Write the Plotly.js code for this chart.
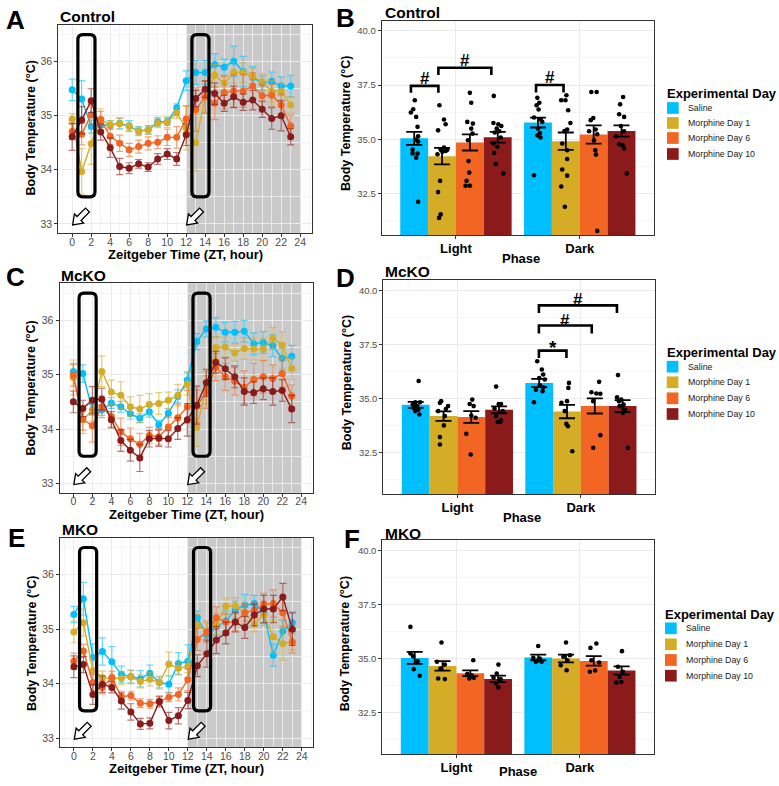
<!DOCTYPE html>
<html><head><meta charset="utf-8">
<script src="https://cdn.plot.ly/plotly-3.0.1.min.js"></script>
<style>html,body{margin:0;padding:0;background:#fff}#chart{width:779px;height:786px}</style>
</head><body><div id="chart"></div>
<script>
// ---------------- DATA ----------------
const ZT = [0,1,2,3,4,5,6,7,8,9,10,11,12,13,14,15,16,17,18,19,20,21,22,23];
const GROUPS = ['Saline','Morphine Day 1','Morphine Day 6','Morphine Day 10'];
const PHASES = ['Light','Dark'];
const COLORS = ['#00BFFF','#D4AC26','#F26522','#8B1A1A'];

// Control (A)
const ctrlSaline = [35.48,35.31,34.80,34.83,34.83,34.86,34.81,34.72,34.74,34.89,34.89,35.15,35.65,35.80,35.80,35.95,35.90,36.01,35.82,35.71,35.60,35.64,35.55,35.55];
const ctrlMD1    = [34.94,33.97,34.48,34.93,34.83,34.85,34.80,34.71,34.74,34.86,34.88,35.05,34.77,34.50,35.35,35.75,35.60,35.80,35.80,35.73,35.63,35.45,35.45,35.20];
const ctrlMD6    = [34.71,34.66,35.02,34.93,34.62,34.49,34.37,34.43,34.49,34.51,34.60,34.60,34.94,35.11,35.35,35.23,35.43,35.46,35.46,35.55,35.37,35.38,35.20,34.81];
const ctrlMD10   = [34.61,34.92,35.28,34.70,34.41,34.06,34.03,34.11,34.05,34.20,34.29,34.20,34.65,35.32,35.49,35.41,35.23,35.35,35.25,35.29,35.12,34.95,35.00,34.61];
const ctrlSalineSE = [0.20,0.34,0.12,0.10,0.08,0.10,0.10,0.08,0.08,0.08,0.07,0.07,0.18,0.22,0.22,0.20,0.15,0.28,0.28,0.20,0.14,0.17,0.17,0.20];
const ctrlMD1SE    = [0.10,0.42,0.38,0.20,0.08,0.10,0.08,0.08,0.08,0.08,0.10,0.10,0.40,0.52,0.30,0.20,0.15,0.20,0.18,0.15,0.15,0.20,0.15,0.15];
const ctrlMD6SE    = [0.15,0.20,0.20,0.15,0.15,0.15,0.12,0.12,0.12,0.12,0.15,0.20,0.25,0.40,0.30,0.30,0.30,0.30,0.30,0.25,0.22,0.20,0.20,0.20];
const ctrlMD10SE   = [0.25,0.25,0.22,0.15,0.18,0.15,0.10,0.08,0.08,0.10,0.10,0.12,0.20,0.15,0.15,0.20,0.15,0.20,0.15,0.18,0.15,0.20,0.28,0.15];

// McKO (C)
const mckoSaline = [35.06,35.02,34.35,34.35,34.48,34.41,34.28,34.20,34.32,34.08,34.29,34.60,34.90,35.61,35.84,35.87,35.78,35.78,35.80,35.57,35.59,35.53,35.30,35.34];
const mckoMD1    = [34.95,34.17,34.34,35.06,34.68,34.62,34.41,34.37,34.45,34.47,34.53,34.62,34.83,34.03,34.76,35.50,35.51,35.40,35.48,35.47,35.47,35.67,35.54,35.11];
const mckoMD6    = [34.99,34.18,34.06,34.41,34.23,33.95,33.82,33.72,33.88,33.86,34.04,34.21,34.41,34.42,34.68,35.14,34.96,34.88,34.77,34.91,34.96,34.93,35.02,34.61];
const mckoMD10   = [34.50,34.38,34.53,34.55,34.17,33.79,33.61,33.47,33.82,33.83,33.82,34.01,34.17,34.44,34.85,35.23,35.11,34.96,34.69,34.67,34.74,34.69,34.71,34.37];
const mckoSalineSE = [0.15,0.16,0.10,0.10,0.10,0.10,0.10,0.08,0.10,0.08,0.08,0.12,0.15,0.15,0.15,0.18,0.18,0.20,0.20,0.20,0.20,0.20,0.20,0.20];
const mckoMD1SE    = [0.32,0.25,0.20,0.28,0.22,0.25,0.18,0.25,0.20,0.20,0.15,0.20,0.20,0.35,0.30,0.20,0.18,0.15,0.20,0.20,0.20,0.20,0.25,0.20];
const mckoMD6SE    = [0.20,0.20,0.30,0.20,0.20,0.25,0.20,0.20,0.15,0.15,0.20,0.25,0.30,0.30,0.30,0.25,0.25,0.25,0.30,0.30,0.30,0.25,0.25,0.20];
const mckoMD10SE   = [0.20,0.15,0.25,0.20,0.15,0.20,0.20,0.25,0.15,0.15,0.15,0.20,0.30,0.35,0.25,0.20,0.20,0.20,0.25,0.20,0.20,0.25,0.20,0.25];

// MKO (E)
const mkoSaline = [35.27,35.56,34.48,34.59,34.40,34.17,34.13,34.09,34.19,34.02,33.99,34.37,34.41,35.21,34.89,35.04,35.15,35.36,35.44,35.47,35.30,34.52,34.96,35.12];
const mkoMD1    = [34.95,35.12,34.24,34.11,34.09,34.10,34.12,34.04,34.08,34.02,34.36,34.28,34.32,35.07,34.96,35.09,35.42,35.43,35.30,35.10,35.26,34.86,34.73,34.77];
const mkoMD6    = [34.41,34.60,34.02,33.93,34.11,33.76,33.78,33.64,33.63,33.67,33.75,33.80,34.07,34.81,34.95,35.21,35.13,35.13,35.30,35.35,35.46,35.47,35.30,34.76];
const mkoMD10   = [34.31,34.35,33.80,33.99,33.93,33.68,33.48,33.26,33.27,33.67,33.32,33.41,33.69,34.33,34.55,34.80,34.93,35.13,35.03,35.26,35.37,35.37,35.59,35.00];
const mkoSalineSE = [0.15,0.30,0.25,0.25,0.28,0.15,0.12,0.15,0.15,0.10,0.15,0.20,0.30,0.12,0.12,0.15,0.18,0.15,0.20,0.15,0.20,0.20,0.20,0.20];
const mkoMD1SE    = [0.20,0.25,0.20,0.12,0.10,0.12,0.12,0.12,0.12,0.12,0.22,0.12,0.12,0.20,0.15,0.20,0.15,0.15,0.20,0.15,0.20,0.30,0.30,0.15];
const mkoMD6SE    = [0.15,0.12,0.15,0.12,0.12,0.10,0.08,0.08,0.08,0.08,0.08,0.12,0.20,0.20,0.20,0.20,0.15,0.15,0.15,0.15,0.20,0.25,0.25,0.20];
const mkoMD10SE   = [0.20,0.15,0.18,0.15,0.10,0.15,0.15,0.10,0.10,0.10,0.15,0.15,0.15,0.20,0.25,0.25,0.20,0.18,0.20,0.20,0.25,0.25,0.25,0.30];

// Phase means (B, D, F), per group in GROUPS order
const ctrlLightMean = [35.04,34.22,34.85,35.09], ctrlLightSE = [0.30,0.38,0.37,0.25];
const ctrlDarkMean  = [35.77,34.91,35.22,35.38], ctrlDarkSE  = [0.23,0.40,0.42,0.26];
const mckoLightMean = [34.71,34.19,34.15,34.48], mckoLightSE = [0.14,0.22,0.27,0.16];
const mckoDarkMean  = [35.72,34.40,34.66,34.65], mckoDarkSE  = [0.19,0.31,0.35,0.28];
const mkoLightMean  = [35.03,34.66,34.32,34.06], mkoLightSE  = [0.28,0.22,0.13,0.15];
const mkoDarkMean   = [35.05,35.00,34.89,34.45], mkoDarkSE   = [0.13,0.18,0.22,0.19];

// Individual animals: [jitter (category units), temperature]
const ctrlLightPts = [
 [[0.005,36.80],[-0.027,36.23],[-0.008,36.38],[0.016,36.03],[0.027,35.57],[0.032,35.14],[0.016,34.98],[0.032,34.89],[-0.013,34.52],[-0.013,34.34],[0.027,34.34],[0.016,34.15],[0.032,32.11]],
 [[-0.021,36.57],[0.016,35.91],[0.029,35.69],[-0.032,35.41],[0.016,34.62],[-0.011,34.52],[0.029,34.46],[0.043,34.52],[0.003,34.42],[-0.037,34.31],[-0.016,33.08],[-0.032,32.56],[-0.011,31.53],[-0.024,31.37]],
 [[0,37.14],[0.011,36.68],[-0.021,35.80],[0.024,35.72],[0.011,35.49],[0.021,35.26],[-0.016,34.95],[-0.011,33.99],[-0.005,33.46],[-0.027,33.08],[-0.035,32.85],[0,32.85]],
 [[-0.032,37.00],[-0.035,35.75],[0.005,35.69],[0.029,35.61],[-0.008,35.49],[-0.024,35.31],[0.013,35.37],[0.024,35.08],[-0.035,34.80],[-0.003,34.65],[-0.029,34.37],[-0.016,33.85],[0.045,33.42]]];
const ctrlDarkPts = [
 [[-0.005,36.91],[0.011,36.68],[-0.011,36.57],[0.005,36.37],[-0.032,36.00],[0.021,35.91],[0.035,35.80],[0,35.49],[0.016,35.29],[-0.005,35.18],[0.021,35.08],[-0.032,33.34]],
 [[-0.037,36.80],[-0.003,36.80],[0.005,37.03],[0.019,36.34],[0.037,35.75],[-0.011,35.38],[0.011,35.45],[-0.029,34.80],[0.011,34.49],[0.011,34.09],[-0.029,33.60],[0.011,33.32],[-0.037,32.82],[-0.008,31.88]],
 [[-0.019,37.18],[0.024,37.18],[-0.003,35.98],[-0.024,35.88],[-0.037,35.37],[0.016,35.45],[0.029,35.23],[0.003,34.95],[0.013,34.49],[0.019,34.29],[0.029,30.77]],
 [[0.013,36.95],[-0.011,36.61],[-0.019,36.15],[0.021,36.03],[-0.005,35.61],[0.021,35.37],[-0.045,35.14],[-0.019,34.77],[0.008,34.72],[0.021,34.57],[0.043,33.42]]];
const mckoLightPts = [
 [[0.024,35.81],[0.035,34.83],[-0.003,34.83],[-0.024,34.72],[0.013,34.65],[-0.019,34.57],[0.021,34.49],[-0.005,34.42],[0.029,34.26]],
 [[-0.019,34.88],[-0.029,34.80],[0.037,34.65],[0.019,34.52],[-0.043,34.42],[0.011,34.19],[0.003,33.76],[-0.029,33.22],[-0.029,32.88]],
 [[0.008,34.95],[-0.013,34.75],[0.019,34.65],[0,34.22],[0.035,34.11],[-0.040,33.37],[-0.005,32.42]],
 [[-0.024,35.55],[-0.003,34.75],[0.016,34.75],[-0.037,34.54],[0.029,34.42],[-0.024,34.19],[0.008,33.92],[-0.011,33.92],[0.016,33.99]]];
const mckoDarkPts = [
 [[-0.016,36.72],[0.021,36.34],[0.032,36.11],[0,35.95],[0.045,35.88],[0.005,35.61],[0.032,35.52],[-0.027,35.41],[0.027,35.34],[-0.043,34.83]],
 [[0.016,35.72],[0.011,35.49],[0,34.88],[-0.045,34.80],[-0.019,34.42],[-0.005,33.83],[0.008,33.72],[0.043,32.57]],
 [[0.035,35.77],[-0.027,35.29],[0.013,35.23],[0.045,35.22],[-0.013,34.88],[0.045,33.31],[-0.013,32.73]],
 [[-0.037,36.08],[-0.045,35.06],[-0.011,34.95],[-0.029,34.88],[0.008,34.72],[-0.024,34.65],[0.019,34.48],[0.003,34.34],[0.043,32.73]]];
const mkoLightPts = [
 [[-0.035,36.46],[-0.035,35.23],[-0.013,35.11],[0.024,34.88],[-0.008,34.51],[0.040,34.20]],
 [[-0.008,35.74],[-0.045,34.85],[0.019,34.72],[-0.016,34.54],[-0.035,34.08],[0.019,34.05]],
 [[0.024,34.92],[-0.024,34.28],[0.011,34.23],[-0.008,34.08],[0.029,34.11],[-0.003,34.15]],
 [[0.003,34.72],[-0.011,34.31],[-0.037,34.11],[0.021,34.05],[-0.016,33.85],[0.003,33.66]]];
const mkoDarkPts = [
 [[0,35.58],[-0.040,35.03],[0.013,35.00],[-0.019,34.85],[0.027,34.85],[0,34.92]],
 [[0,35.74],[0.032,35.15],[-0.021,35.08],[0.011,34.92],[-0.043,34.69],[0.005,34.46]],
 [[0.021,35.69],[-0.027,35.49],[-0.019,34.92],[0.043,34.82],[-0.032,34.39],[0.011,34.45]],
 [[0.003,35.34],[-0.029,34.62],[0.011,34.39],[-0.016,34.15],[-0.043,33.89],[-0.003,33.92]]];

// Significance brackets: [x start, x end, bracket y, leg end y, label, label centre y]
const ctrlSig = [[-0.364,-0.142,37.46,37.14,'#',37.80],[-0.142,0.286,38.30,37.96,'#',38.65],[0.647,0.869,37.50,37.16,'#',37.85]];
const mckoSig = [[0.660,0.883,37.21,36.87,'*',37.35],[0.660,1.088,38.37,38.00,'#',38.62],[0.660,1.292,39.30,38.95,'#',39.56]];

// Highlight windows and injection markers (ZT)
const boxWindows = [[0.6,2.4],[12.6,14.4]];
const boxTemps = [33.5,36.5];
const injectionZT = [0,12];
const darkPhase = [12,24];

// ---------------- LAYOUT ----------------
const W = 779, H = 786;
const FONT = 'Liberation Sans, Arial, Helvetica, sans-serif';
const LINE_XR = [-1.46,25.21], LINE_YR = [32.83,36.68];
const BAR_XR = [-0.6,1.6], BAR_YR = [30.58,40.47];
const linePanels = [
  {id:'',  box:{l:58.3,r:311.7,t:25,b:233},   data:[ctrlSaline,ctrlMD1,ctrlMD6,ctrlMD10], se:[ctrlSalineSE,ctrlMD1SE,ctrlMD6SE,ctrlMD10SE],
   letter:['A',16,19.5], title:['Control',57.5,16.3], ytitle:[30.5,128], xtitle:[185,254.5]},
  {id:'3', box:{l:59.5,r:312.7,t:283.3,b:492.7}, data:[mckoSaline,mckoMD1,mckoMD6,mckoMD10], se:[mckoSalineSE,mckoMD1SE,mckoMD6SE,mckoMD10SE],
   letter:['C',15,277.3], title:['McKO',59,275.5], ytitle:[31.3,388.3], xtitle:[186.3,514]},
  {id:'5', box:{l:60,r:313.3,t:537.7,b:747.3}, data:[mkoSaline,mkoMD1,mkoMD6,mkoMD10], se:[mkoSalineSE,mkoMD1SE,mkoMD6SE,mkoMD10SE],
   letter:['E',16.7,538], title:['MKO',59.5,529.5], ytitle:[32,644], xtitle:[186.7,768.5]}
];
const barPanels = [
  {id:'2', box:{l:381.7,r:654,t:20.7,b:235}, light:[ctrlLightMean,ctrlLightSE,ctrlLightPts], dark:[ctrlDarkMean,ctrlDarkSE,ctrlDarkPts], sig:ctrlSig,
   letter:['B',345,18.3], title:['Control',382.5,12.5], ytitle:[346.7,123.3], xtitle:[521,258],
   legend:{tx:665,ty:93,kx:667,ky:[108,123,138,154],lx:686}},
  {id:'4', box:{l:383.3,r:655,t:280,b:494.3}, light:[mckoLightMean,mckoLightSE,mckoLightPts], dark:[mckoDarkMean,mckoDarkSE,mckoDarkPts], sig:mckoSig,
   letter:['D',345,278], title:['McKO',382.5,271], ytitle:[346.7,382.5], xtitle:[522,517]},
  {id:'6', box:{l:382.3,r:654,t:540,b:754.3}, light:[mkoLightMean,mkoLightSE,mkoLightPts], dark:[mkoDarkMean,mkoDarkSE,mkoDarkPts], sig:[],
   letter:['F',351.5,539], title:['MKO',382.5,533], ytitle:[345.3,644], xtitle:[518.3,771.5]}
];
barPanels[1].legend = {tx:665,ty:352.7,kx:666.7,ky:[366.7,382.3,398.3,414],lx:686};
barPanels[2].legend = {tx:663,ty:614.3,kx:665,ky:[628.3,644.3,660,675.7],lx:684};

const layout = {width:W, height:H, margin:{l:0,r:0,t:0,b:0,pad:0}, paper_bgcolor:'#ffffff', plot_bgcolor:'#ffffff',
  showlegend:false, font:{family:FONT, color:'#000'}, shapes:[], annotations:[]};
const traces = [];

function rgba(hex,a){const n=parseInt(hex.slice(1),16);return `rgba(${n>>16&255},${n>>8&255},${n&255},${a})`;}
const px = x => x/W, py = y => 1 - y/H;
function txt(text,x,y,o){layout.annotations.push(Object.assign({text:text,x:px(x),y:py(y),xref:'paper',yref:'paper',showarrow:false,
  xanchor:'center',yanchor:'middle',font:{family:FONT,size:13,color:'#000',weight:'bold'}},o||{}));}

function axisBase(box,isX){
  return {domain: isX?[px(box.l),px(box.r)]:[py(box.b),py(box.t)], showline:true, mirror:true, linecolor:'#333333', linewidth:1,
    zeroline:false, showgrid:true, gridcolor:'#EBEBEB', gridwidth:1, ticks:'outside', ticklen:3, tickwidth:1, tickcolor:'#333333',
    fixedrange:true, automargin:false};
}

// ---- line panels ----
linePanels.forEach(P=>{
  const xa='x'+P.id, ya='y'+P.id;
  const xk='xaxis'+P.id, yk='yaxis'+P.id;
  layout[xk] = Object.assign(axisBase(P.box,true),{anchor:ya, range:LINE_XR, tickmode:'linear', tick0:0, dtick:2, ticklabelstandoff:-4,
    tickfont:{size:10.5,color:'#4D4D4D',family:FONT}, minor:{dtick:1, showgrid:true, gridcolor:'#F2F2F2', gridwidth:0.8}});
  layout[yk] = Object.assign(axisBase(P.box,false),{anchor:xa, range:LINE_YR, tickmode:'linear', tick0:33, dtick:1,
    tickfont:{size:10.5,color:'#4D4D4D',family:FONT}, minor:{dtick:0.5, showgrid:true, gridcolor:'#F2F2F2', gridwidth:0.8}});
  const pxX = (P.box.r-P.box.l)/(LINE_XR[1]-LINE_XR[0]);
  const pxY = (P.box.b-P.box.t)/(LINE_YR[1]-LINE_YR[0]);
  // dark phase shading
  layout.shapes.push({type:'rect', xref:xa, yref:ya+' domain', x0:darkPhase[0], x1:darkPhase[1], y0:0, y1:1,
    fillcolor:'#C9C9C9', line:{width:0}, layer:'below'});
  // series
  P.data.forEach((m,g)=>{
    traces.push({type:'scatter', mode:'lines+markers', name:GROUPS[g], x:ZT, y:m, xaxis:xa, yaxis:ya,
      line:{color:COLORS[g], width:1.4}, marker:{color:COLORS[g], size:7},
      error_y:{type:'data', array:P.se[g], visible:true, color:rgba(COLORS[g],0.6), thickness:1.2, width:3.5}, hoverinfo:'skip'});
  });
  // rounded highlight boxes
  const r = 5, rx = r/pxX, ry = r/pxY;
  boxWindows.forEach(([x0,x1])=>{
    const y0=boxTemps[0], y1=boxTemps[1];
    const path = `M${x0+rx},${y1} L${x1-rx},${y1} Q${x1},${y1} ${x1},${y1-ry} L${x1},${y0+ry} Q${x1},${y0} ${x1-rx},${y0} `+
                 `L${x0+rx},${y0} Q${x0},${y0} ${x0},${y0+ry} L${x0},${y1-ry} Q${x0},${y1} ${x0+rx},${y1} Z`;
    layout.shapes.push({type:'path', xref:xa, yref:ya, path:path, line:{color:'#000', width:3.2}, fillcolor:'rgba(0,0,0,0)', layer:'above'});
  });
  // hollow arrows pointing down-left to the injection times
  const s = Math.SQRT1_2, a=[s,-s], p=[s,s];
  const local = [[0,0],[9,-6.5],[9,-2.8],[21,-2.8],[21,2.8],[9,2.8],[9,6.5]];
  injectionZT.forEach(z=>{
    const tipX = z + 0.05, tipY = 32.98;
    const pts = local.map(([u,v])=>{const sx=u*a[0]+v*p[0], sy=u*a[1]+v*p[1]; return [tipX+sx/pxX, tipY-sy/pxY];});
    const path = 'M'+pts.map(q=>q[0].toFixed(4)+','+q[1].toFixed(4)).join(' L')+' Z';
    layout.shapes.push({type:'path', xref:xa, yref:ya, path:path, line:{color:'#000', width:1.3}, fillcolor:'#fff', layer:'above'});
  });
  txt(P.letter[0],P.letter[1],P.letter[2],{font:{family:FONT,size:26,weight:'bold',color:'#000'}});
  txt(P.title[0],P.title[1],P.title[2],{xanchor:'left',font:{family:FONT,size:15.5,weight:'bold',color:'#000'}});
  txt('Body Temperature (°C)',P.ytitle[0],P.ytitle[1],{textangle:-90,font:{family:FONT,size:12.5,weight:'bold',color:'#000'}});
  txt('Zeitgeber Time (ZT, hour)',P.xtitle[0],P.xtitle[1],{font:{family:FONT,size:13,weight:'bold',color:'#000'}});
});

// ---- bar panels ----
const DODGE = 0.225;
barPanels.forEach(P=>{
  const xa='x'+P.id, ya='y'+P.id;
  layout['xaxis'+P.id] = Object.assign(axisBase(P.box,true),{anchor:ya, range:BAR_XR, tickmode:'array', tickvals:[0,1], ticktext:PHASES,
    ticklabelstandoff:-2, tickfont:{size:13,color:'#000',family:FONT,weight:'bold'}});
  layout['yaxis'+P.id] = Object.assign(axisBase(P.box,false),{anchor:xa, range:BAR_YR, tickmode:'array', tickvals:[32.5,35,37.5,40],
    ticktext:['32.5','35.0','37.5','40.0'], tickfont:{size:9.5,color:'#4D4D4D',family:FONT},
    minor:{tickmode:'linear', tick0:30, dtick:1.25, showgrid:true, gridcolor:'#F2F2F2', gridwidth:0.8}});
  GROUPS.forEach((g,i)=>{
    const off = (i-1.5)*DODGE;
    traces.push({type:'bar', name:g, x:[0+off,1+off], y:[P.light[0][i],P.dark[0][i]], width:DODGE, xaxis:xa, yaxis:ya,
      marker:{color:COLORS[i], line:{width:0}},
      error_y:{type:'data', array:[P.light[1][i],P.dark[1][i]], visible:true, color:'#000', thickness:1.8, width:8}, hoverinfo:'skip'});
  });
  GROUPS.forEach((g,i)=>{
    const off = (i-1.5)*DODGE;
    const xs=[], ys=[];
    P.light[2][i].forEach(([j,v])=>{xs.push(0+off+j); ys.push(v);});
    P.dark[2][i].forEach(([j,v])=>{xs.push(1+off+j); ys.push(v);});
    traces.push({type:'scatter', mode:'markers', name:g+' animals', x:xs, y:ys, xaxis:xa, yaxis:ya,
      marker:{color:'#000', size:4.6}, hoverinfo:'skip'});
  });
  P.sig.forEach(([x0,x1,y,yl,lab,ly])=>{
    layout.shapes.push({type:'path', xref:xa, yref:ya, path:`M${x0},${yl} L${x0},${y} L${x1},${y} L${x1},${yl}`,
      line:{color:'#000', width:2.6}, layer:'above'});
    layout.annotations.push({text:lab, x:(x0+x1)/2, y:ly, xref:xa, yref:ya, showarrow:false, xanchor:'center', yanchor:'middle',
      font:{family:FONT, size:lab==='*'?19:17, weight:'bold', color:'#000'}});
  });
  txt(P.letter[0],P.letter[1],P.letter[2],{font:{family:FONT,size:26,weight:'bold',color:'#000'}});
  txt(P.title[0],P.title[1],P.title[2],{xanchor:'left',font:{family:FONT,size:15.5,weight:'bold',color:'#000'}});
  txt('Body Temperature (°C)',P.ytitle[0],P.ytitle[1],{textangle:-90,font:{family:FONT,size:12.5,weight:'bold',color:'#000'}});
  txt('Phase',P.xtitle[0],P.xtitle[1],{font:{family:FONT,size:13,weight:'bold',color:'#000'}});
  // legend
  const L = P.legend, k = 11.7;
  txt('Experimental Day',L.tx,L.ty,{xanchor:'left',font:{family:FONT,size:13,weight:'bold',color:'#000'}});
  GROUPS.forEach((g,i)=>{
    layout.shapes.push({type:'rect', xref:'paper', yref:'paper', x0:px(L.kx), x1:px(L.kx+k), y0:py(L.ky[i]+k/2), y1:py(L.ky[i]-k/2),
      fillcolor:COLORS[i], line:{width:0}});
    txt(g,L.lx,L.ky[i],{xanchor:'left',font:{family:FONT,size:8.8,color:'#1A1A1A'}});
  });
});

Plotly.newPlot('chart', traces, layout, {staticPlot:true, displayModeBar:false});
</script></body></html>
